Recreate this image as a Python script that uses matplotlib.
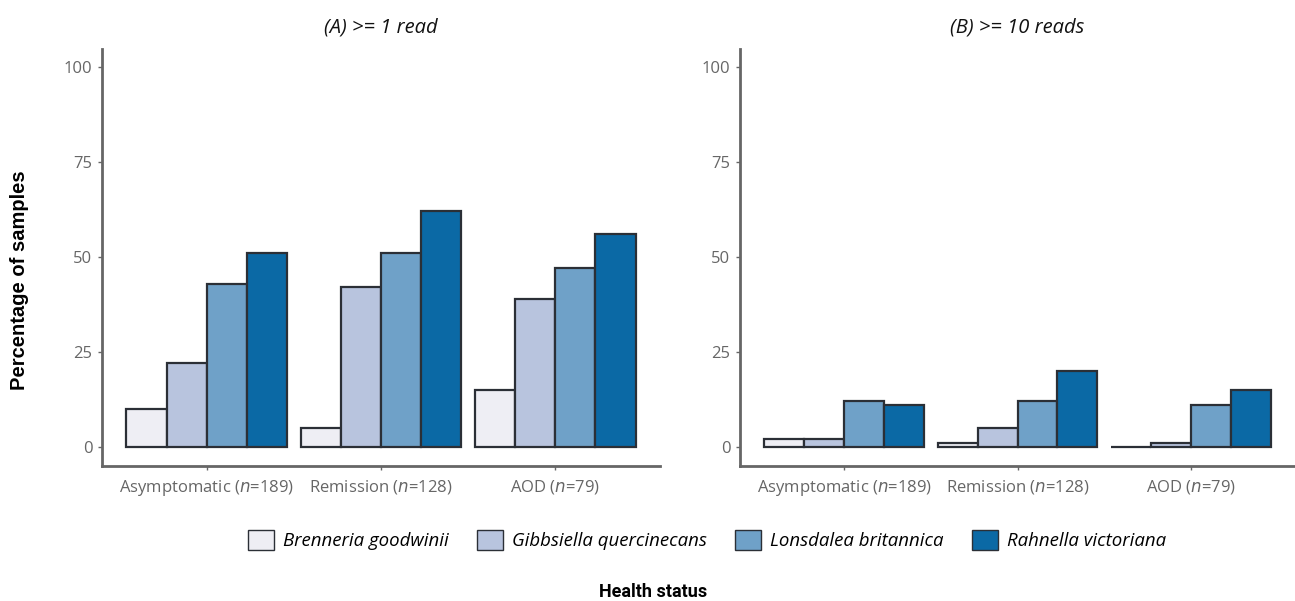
import numpy as np
import matplotlib
matplotlib.use("Agg")
from matplotlib import pyplot as plt
from matplotlib.patches import Patch

# categories and species
groups = ["Asymptomatic", "Remission", "AOD"]
group_n = [189, 128, 79]
species = ["Brenneria goodwinii", "Gibbsiella quercinecans",
           "Lonsdalea britannica", "Rahnella victoriana"]
colors = ["#EEEEF4", "#B8C4DE", "#6FA1C8", "#0B69A5"]

# percentage of samples, one list per species (order of groups)
read1_brenneria = [10, 5, 15]
read1_gibbsiella = [22, 42, 39]
read1_lonsdalea = [43, 51, 47]
read1_rahnella = [51, 62, 56]

read10_brenneria = [2, 1, 0]
read10_gibbsiella = [2, 5, 1]
read10_lonsdalea = [12, 12, 11]
read10_rahnella = [11, 20, 15]

panels = [
    ("(A) >= 1 read", [read1_brenneria, read1_gibbsiella, read1_lonsdalea, read1_rahnella]),
    ("(B) >= 10 reads", [read10_brenneria, read10_gibbsiella, read10_lonsdalea, read10_rahnella]),
]

plt.rcParams['font.family'] = ['Open Sans', 'DejaVu Sans']
grey = "#666666"

fig = plt.figure(figsize=(12.95, 6.01), dpi=100)
# axes boxes in pixels (left, top, right, bottom)
boxes = [(102, 49, 660, 466), (740, 49, 1295, 466)]

x = np.arange(len(groups))
width = 0.23
ticklabels = [f"{g} ($\\it{{n}}$={n})" for g, n in zip(groups, group_n)]

for (l, t, r, b), (title, data) in zip(boxes, panels):
    ax = fig.add_axes([l / 1295, 1 - b / 601, (r - l) / 1295, (b - t) / 601])
    for i, vals in enumerate(data):
        ax.bar(x + (i - 1.5) * width, vals, width, color=colors[i],
               edgecolor="#2b2f36", linewidth=1.6, zorder=3)
    ax.set_xlim(-0.6, 2.6)
    ax.set_ylim(-5, 104.7)
    ax.set_yticks([0, 25, 50, 75, 100])
    ax.set_xticks(x)
    ax.set_xticklabels(ticklabels)
    ax.tick_params(colors=grey, labelsize=12, length=3, width=1, pad=4)
    ax.tick_params(axis='x', pad=6)
    for s in ["top", "right"]:
        ax.spines[s].set_visible(False)
    for s in ["left", "bottom"]:
        ax.spines[s].set_color("#666666")
        ax.spines[s].set_linewidth(2)
    ax.set_title(title, fontsize=14.5, style="italic", color="#111111", pad=12)

fig.text(20 / 1295, 1 - 280 / 601, "Percentage of samples", rotation=90,
         ha="center", va="center", fontsize=14.5, fontweight="bold",
         family=["Liberation Sans", "DejaVu Sans"])
fig.text(653 / 1295, 1 - 592 / 601, "Health status", ha="center", va="center",
         fontsize=13, fontweight="bold", family=["Roboto", "DejaVu Sans"])

handles = [Patch(facecolor=c, edgecolor="#2b2f36", linewidth=1.0) for c in colors]
fig.legend(handles, species, loc="center", bbox_to_anchor=(707 / 1295, 1 - 540 / 601),
           ncol=4, frameon=False, prop={"style": "italic", "size": 13.4},
           handlelength=1.4, handleheight=1.35, columnspacing=1.5, handletextpad=0.5,
           borderpad=0, borderaxespad=0)

fig.savefig("out.png", dpi=100)
